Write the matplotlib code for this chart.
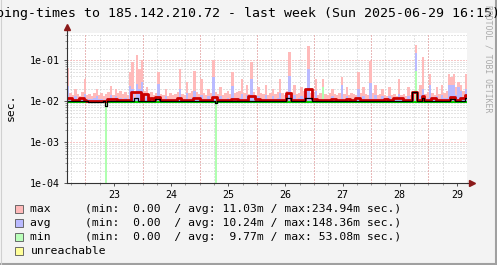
import numpy as np
import matplotlib
matplotlib.use('Agg')
import matplotlib.pyplot as plt
from matplotlib.lines import Line2D
from matplotlib.patches import Rectangle

# hourly samples, start Sun 22.06 16:15, values in ms
start_day = 22 + 16.25 / 24

max_ms = [65, 16, 14, 20, 15, 13, 17, 35, 14, 15, 13, 16,
          20, 14, 16, 13, 15, 17, 23, 14, 20, 16, 18, 15,
          17, 14, 50, 90, 16, 135, 60, 100, 18, 22, 15, 17,
          14, 16, 50, 15, 14, 20, 13, 16, 14, 15, 17, 60,
          15, 14, 29, 16, 18, 54, 17, 15, 35, 16, 14, 20,
          16, 100, 17, 15, 22, 14, 16, 18, 15, 50, 16, 17,
          18, 35, 16, 25, 15, 90, 17, 14, 22, 16, 15, 25,
          14, 16, 20, 15, 17, 35, 16, 14, 18, 160, 17, 25,
          15, 16, 22, 18, 17, 220, 16, 15, 35, 14, 16, 35,
          15, 14, 16, 20, 15, 14, 16, 38, 15, 22, 14, 16,
          15, 14, 50, 16, 22, 15, 14, 95, 16, 25, 14, 15,
          20, 14, 13, 22, 14, 15, 13, 35, 14, 15, 13, 22,
          14, 15, 235, 16, 25, 120, 15, 17, 45, 16, 14, 22,
          15, 25, 16, 18, 45, 38, 45, 22, 30, 25, 18, 45]

avg_ms = [24, 11, 11, 13, 11, 11, 12, 15, 11, 11, 11, 12,
          13, 11, 11, 10.8, 11, 12, 14, 11, 13, 11, 12, 11,
          12, 11, 23, 20, 12, 26, 20, 30, 12, 14, 11, 12,
          11, 11, 26, 11, 11, 13, 11, 11, 11, 11, 12, 20,
          11, 11, 16, 11, 12, 18, 12, 11, 14, 11, 11, 13,
          11, 38, 12, 11, 13, 11, 11, 12, 11, 23, 11, 12,
          12, 15, 11, 14, 11, 35, 12, 11, 13, 11, 11, 14,
          11, 11, 13, 11, 12, 16, 11, 11, 12, 40, 12, 14,
          11, 12, 13, 12, 12, 60, 11, 11, 18, 11, 11, 20,
          11, 11, 11, 13, 11, 11, 11, 25, 11, 13, 11, 11,
          11, 11, 20, 11, 13, 11, 11, 28, 11, 14, 11, 11,
          13, 11, 11, 13, 11, 11, 11, 15, 11, 11, 11, 13,
          11, 11, 148, 12, 14, 20, 11, 12, 25, 11, 11, 13,
          11, 14, 12, 12, 25, 25, 25, 14, 22, 18, 12, 20]

min_ms = [9.7, 9.7, 9.6, 9.7, 9.7, 9.6, 9.7, 9.7, 9.6, 9.6, 9.6, 9.6,
          9.6, 9.6, 9.6, 9.7, 0, 9.7, 9.7, 9.7, 9.6, 9.7, 9.7, 9.7,
          9.7, 9.7, 9.8, 9.8, 9.7, 9.8, 9.8, 9.8, 9.7, 9.7, 9.7, 9.7,
          9.7, 9.7, 9.7, 9.7, 9.6, 9.7, 9.7, 9.7, 9.7, 9.7, 9.7, 9.7,
          9.7, 9.7, 9.7, 9.7, 9.7, 9.7, 9.7, 9.7, 9.7, 9.7, 9.7, 9.7,
          9.7, 9.7, 0, 9.7, 9.7, 9.7, 9.7, 9.7, 9.7, 9.7, 9.7, 9.7,
          9.7, 9.7, 9.7, 9.7, 9.7, 9.8, 9.7, 9.7, 9.7, 9.7, 9.7, 9.7,
          9.7, 9.7, 9.7, 9.7, 9.7, 9.7, 9.7, 9.6, 9.7, 9.8, 9.7, 9.7,
          9.6, 9.6, 9.7, 9.7, 9.7, 9.8, 9.7, 9.7, 9.7, 9.7, 9.7, 22,
          9.7, 9.7, 9.7, 9.7, 9.7, 9.7, 9.7, 9.7, 9.7, 9.7, 9.7, 9.7,
          9.7, 9.7, 9.7, 9.7, 9.7, 9.7, 9.7, 9.7, 9.7, 9.7, 9.7, 9.7,
          9.7, 9.7, 9.7, 9.7, 9.7, 9.7, 9.7, 9.7, 9.7, 9.7, 9.7, 9.7,
          9.7, 9.7, 53, 9.7, 9.7, 9.7, 9.7, 9.7, 9.7, 9.7, 9.7, 9.7,
          9.7, 9.7, 9.7, 9.7, 9.7, 9.7, 9.7, 9.7, 9.7, 9.7, 9.7, 9.7]

red_ms = [12, 12, 10.5, 10.5, 10.5, 12, 12, 10.8, 10.3, 10.2, 10.2, 10.2,
          10.2, 10.2, 10.2, 10.3, 10.3, 11.5, 11.5, 11.5, 11.5, 10.5, 10.5, 10.5,
          10.5, 10.5, 10.5, 16.5, 16.5, 16.5, 16.5, 10.5, 15, 15, 10.5, 12,
          10.5, 12.5, 12.5, 10.5, 10.5, 10.5, 10.4, 10.4, 10.4, 10.4, 12, 12,
          10.4, 10.4, 10.4, 10.4, 10.4, 11.8, 11.8, 11.8, 10.4, 10.4, 10.4, 10.4,
          10.4, 12.5, 12.5, 10.4, 10.4, 10.4, 10.4, 10.4, 10.4, 11.5, 11.5, 11.5,
          10.4, 10.4, 10.4, 10.4, 13.5, 13.5, 13.5, 11.5, 11.5, 10.4, 10.4, 10.4,
          10.4, 10.4, 10.4, 10.4, 10.4, 10.4, 10.4, 10.4, 16, 16, 10.4, 10.4,
          10.4, 10.4, 10.4, 10.4, 20, 20, 20, 11.5, 11.5, 10.4, 10.4, 10.4,
          10.4, 10.4, 10.4, 11.5, 11.5, 10.4, 10.4, 10.4, 10.4, 11.3, 11.3, 10.4,
          10.4, 12, 12, 10.4, 10.4, 10.4, 10.4, 10.4, 10.4, 10.4, 10.4, 10.4,
          10.4, 11.5, 11.5, 10.4, 10.4, 11.8, 11.8, 11.8, 11.8, 10.4, 10.4, 10.4,
          10.4, 17, 17, 10.4, 10.4, 13.5, 10.4, 10.4, 10.4, 11.8, 11.8, 10.4,
          10.4, 10.4, 10.4, 10.4, 10.4, 12.5, 12.5, 10.4, 10.4, 11.8, 11.8, 14]

black_ms = [10, 10, 10, 10, 10, 10, 10, 10, 10, 9.4, 9.4, 9.4,
            9.4, 9.4, 9.4, 10, 7.5, 10, 10, 10, 10, 10, 10, 10,
            10, 10, 10, 10, 12, 12, 10, 10, 10, 10, 10, 10,
            10, 11, 11, 10, 10, 10, 10, 10, 10, 10, 10, 10,
            10, 10, 10, 10, 10, 10, 10, 10, 10, 10, 10, 10,
            10, 10, 8.8, 10, 10, 10, 10, 10, 10, 10, 10, 10,
            10, 10, 10, 10, 10, 10, 10, 10, 10, 10, 10, 10,
            10, 10, 10, 10, 10, 10, 10, 10, 12, 12, 10, 10,
            10, 10, 10, 10, 12, 12, 12, 10, 10, 10, 10, 10,
            10, 10, 10, 10, 10, 10, 10, 10, 10, 10, 10, 10,
            10, 10, 10, 10, 10, 10, 10, 10, 10, 10, 10, 10,
            10, 10, 10, 10, 10, 10, 10, 10, 10, 10, 10, 10,
            10, 17, 17, 10, 10, 12, 10, 10, 10, 10, 10, 10,
            10, 10, 10, 10, 10, 11, 11, 10, 10, 10, 10, 12]

day_labels = ['23', '24', '25', '26', '27', '28', '29']
legend_names = ['max', 'avg', 'min']
legend_min = [0.00, 0.00, 0.00]
legend_avg = [11.03, 10.24, 9.77]
legend_max = [234.94, 148.36, 53.08]

title = 'ping-times to 185.142.210.72 - last week (Sun 2025-06-29 16:15)'

W, H = 497, 265
fig = plt.figure(figsize=(W / 100, H / 100), dpi=100, facecolor='#f3f3f3')
ax = fig.add_axes([67 / W, (H - 183) / H, 400 / W, 150 / H])
ax.set_facecolor('white')

n = len(max_ms)
t = start_day + np.arange(n + 1) / 24.0

def ext(v):
    v = np.asarray(v, dtype=float) / 1000.0
    return np.append(v, v[-1])

mx, av, mn, rd, bk = ext(max_ms), ext(avg_ms), ext(min_ms), ext(red_ms), ext(black_ms)

ax.set_yscale('log', nonpositive='clip')
ax.set_ylim(1e-4, 0.46)
ax.set_xlim(start_day, start_day + 7)

ax.fill_between(t, mn, mx, step='post', color='#ffbaba', lw=0, zorder=2)
ax.fill_between(t, mn, av, step='post', color='#babaff', lw=0, zorder=3)
ax.fill_between(t, 0.0095, mn, step='post', color='#b0ffb0', lw=0, zorder=4)
# min line stays on the floor, spikes only show as area
green = np.where(mn > 0, np.minimum(mn, 0.0097), np.nan)
ax.step(t, green, where='post', color='#00cc00', lw=1.5, zorder=5)
ax.step(t, rd, where='post', color='#cc0000', lw=2.0, zorder=6)
ax.step(t, bk, where='post', color='#000000', lw=0.9, zorder=7)

# grid
dot = (0, (1, 2))
ax.set_yticks([1e-4, 1e-3, 1e-2, 1e-1])
ax.set_yticklabels(['1e-04', '1e-03', '1e-02', '1e-01'])
minors = [m * 10.0 ** e for e in range(-4, 0) for m in range(2, 10)]
ax.set_yticks([m for m in minors if m < 0.46], minor=True)
ax.yaxis.set_minor_formatter(plt.NullFormatter())
ax.grid(True, which='minor', axis='y', color='#c8c8c8', lw=0.72, ls=dot)
ax.grid(True, which='major', axis='y', color='#f09090', lw=0.72, ls=dot)

six_h = np.arange(22.75, 29.7, 0.25)
ax.set_xticks(six_h, minor=True)
ax.set_xticks(np.arange(23, 30) + 0.5)
ax.set_xticklabels(day_labels)
ax.grid(True, which='minor', axis='x', color='#c8c8c8', lw=0.72, ls=dot)
for d in range(23, 30):
    ax.axvline(d, color='#f09090', lw=0.72, ls=dot, zorder=1)
ax.set_axisbelow(True)

mono = 'DejaVu Sans Mono'
ax.tick_params(axis='both', which='major', labelsize=7.2, length=2, width=0.7,
               color='#555555', pad=3)
ax.tick_params(axis='both', which='minor', length=1.5, width=0.6, color='#888888')
for lab in ax.get_xticklabels() + ax.get_yticklabels():
    lab.set_fontfamily(mono)

for s in ['top', 'right']:
    ax.spines[s].set_visible(False)
for s in ['left', 'bottom']:
    ax.spines[s].set_color('#333333')
    ax.spines[s].set_linewidth(0.8)
    ax.spines[s].set_zorder(8)

# axis extensions and arrows
ax.add_line(Line2D([0, 0], [1, 1 + 4 / 150], transform=ax.transAxes, color='#333333',
                   lw=0.8, clip_on=False))
ax.add_line(Line2D([1, 1 + 3 / 400], [0, 0], transform=ax.transAxes, color='#333333',
                   lw=0.8, clip_on=False))
ax.plot([0], [1 + 6 / 150], marker='^', ms=4.5, color='#8b1a1a', transform=ax.transAxes,
        clip_on=False, zorder=9)
ax.plot([1 + 5 / 400], [0], marker='>', ms=4.5, color='#8b1a1a', transform=ax.transAxes,
        clip_on=False, zorder=9)

fig.text(248 / W, 1 - 13 / H, title, family=mono, fontsize=9.5, ha='center', va='center',
         color='#000000')
fig.text(11 / W, 1 - 107 / H, 'sec.', family=mono, fontsize=8.2, rotation=90,
         ha='center', va='center')
fig.text(488 / W, 1 - 59 / H, 'RRDTOOL / TOBI OETIKER', family=mono, fontsize=5.9,
         rotation=270, ha='center', va='center', color='#aaaaaa')

colors = ['#ffbaba', '#babaff', '#baffba', '#ffff99']
rows = [209, 223, 237, 251]
for i in range(3):
    txt = '%-8s(min: %5.2f  / avg: %5.2fm / max:%6.2fm sec.)' % (
        legend_names[i], legend_min[i], legend_avg[i], legend_max[i])
    fig.text(30.5 / W, 1 - rows[i] / H, txt, family=mono, fontsize=8.2, va='center')
fig.text(30.5 / W, 1 - rows[3] / H, 'unreachable', family=mono, fontsize=8.2, va='center')
for i in range(4):
    fig.add_artist(Rectangle((15 / W, 1 - (rows[i] + 4) / H), 8 / W, 8 / H,
                             transform=fig.transFigure, facecolor=colors[i],
                             edgecolor='#555555', lw=0.6))

# frame
fig.add_artist(Line2D([0, 1], [1.5 / H, 1.5 / H], transform=fig.transFigure,
                      color='#a0a0a0', lw=1.5))
fig.add_artist(Line2D([1 - 1.5 / W, 1 - 1.5 / W], [0, 1], transform=fig.transFigure,
                      color='#a0a0a0', lw=1.5))
fig.add_artist(Line2D([0.5 / W, 0.5 / W], [0, 1], transform=fig.transFigure,
                      color='#d0d0d0', lw=0.8))

fig.savefig('out.png', dpi=100, facecolor=fig.get_facecolor())
